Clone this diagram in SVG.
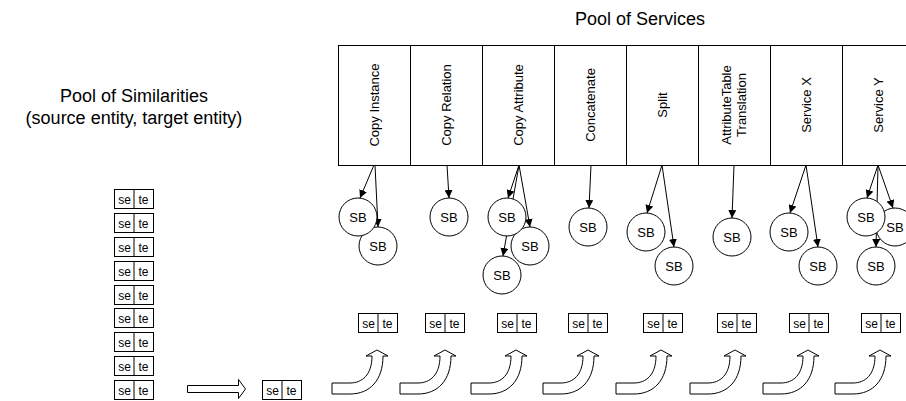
<svg xmlns="http://www.w3.org/2000/svg" xmlns:xlink="http://www.w3.org/1999/xlink" width="906" height="401" viewBox="0 0 906 401">
<style>
text{font-family:"Liberation Sans",Arial,sans-serif;fill:#000}
.title{font-size:18px;text-anchor:middle}
.svc{fill:#fff;stroke:#000;stroke-width:1}
.lbl{font-size:13px;text-anchor:middle;dominant-baseline:central}
.sb circle{fill:#fff;stroke:#000;stroke-width:1}
.sb text{font-size:13px;text-anchor:middle}
.pbox{fill:#fff;stroke:#000;stroke-width:1}
.ptxt{font-size:12px;text-anchor:middle;font-family:"Liberation Sans",Arial,sans-serif;fill:#000}
.conn line{stroke:#000;stroke-width:1;fill:none}
.hollow{fill:#fff;stroke:#000;stroke-width:1}
</style>
<defs>
<marker id="ah" viewBox="0 0 10 10" refX="10" refY="5" markerWidth="8" markerHeight="8" markerUnits="userSpaceOnUse" orient="auto">
<path d="M0,0 L10,5 L0,10 Z" fill="#000"/>
</marker>
<path id="curve" fill="#fff" stroke="#000" stroke-width="1" d="M332,383 L350,383 C362,383 372,375 372,356 L366,356 L377,350 L388,356 L383,356 C383,380 370,394 350,394 L332,394 Z"/>
<g id="pairShape">
<rect class="pbox" x="0.5" y="0.5" width="39" height="19" fill="#fff" stroke="#000"/>
<line class="pbox" x1="20" y1="0.5" x2="20" y2="19.5" stroke="#000"/>
<text class="ptxt" x="10.5" y="14.5" font-size="12" text-anchor="middle">se</text>
<text class="ptxt" x="29.5" y="14.5" font-size="12" text-anchor="middle">te</text>
</g>
</defs>

<text class="title" x="640" y="25">Pool of Services</text>
<text class="title" x="134" y="102">Pool of Similarities</text>
<text class="title" x="134" y="124">(source entity, target entity)</text>

<g id="connectors" class="conn">
<line x1="374" y1="165" x2="360" y2="198" marker-end="url(#ah)"/>
<line x1="375" y1="165" x2="378" y2="227" marker-end="url(#ah)"/>
<line x1="447" y1="165" x2="449" y2="198" marker-end="url(#ah)"/>
<line x1="519" y1="165" x2="508" y2="198" marker-end="url(#ah)"/>
<line x1="519" y1="165" x2="530" y2="227" marker-end="url(#ah)"/>
<line x1="519" y1="165" x2="503" y2="256" marker-end="url(#ah)"/>
<line x1="591" y1="165" x2="589" y2="208" marker-end="url(#ah)"/>
<line x1="662" y1="165" x2="647" y2="213" marker-end="url(#ah)"/>
<line x1="662" y1="165" x2="674" y2="247" marker-end="url(#ah)"/>
<line x1="734" y1="165" x2="732" y2="218" marker-end="url(#ah)"/>
<line x1="806" y1="165" x2="790" y2="213" marker-end="url(#ah)"/>
<line x1="806" y1="165" x2="818" y2="247" marker-end="url(#ah)"/>
<line x1="878" y1="165" x2="867" y2="198" marker-end="url(#ah)"/>
<line x1="878" y1="165" x2="893" y2="208" marker-end="url(#ah)"/>
<line x1="878" y1="165" x2="876" y2="247" marker-end="url(#ah)"/>
<path class="hollow" d="M187.5,385.5 L238.5,385.5 L238.5,379.5 L245.5,389 L238.5,398.5 L238.5,392.5 L187.5,392.5 Z"/>
<use xlink:href="#curve"/>
<use xlink:href="#curve" x="68"/>
<use xlink:href="#curve" x="139"/>
<use xlink:href="#curve" x="211"/>
<use xlink:href="#curve" x="284"/>
<use xlink:href="#curve" x="358"/>
<use xlink:href="#curve" x="431"/>
<use xlink:href="#curve" x="503"/>
</g>

<g id="svc-copy-instance"><rect class="svc" x="338.5" y="45.5" width="72" height="120"/><text class="lbl" transform="translate(374.5,105) rotate(-90)">Copy Instance</text></g>
<g id="svc-copy-relation"><rect class="svc" x="410.5" y="45.5" width="72" height="120"/><text class="lbl" transform="translate(446.5,105) rotate(-90)">Copy Relation</text></g>
<g id="svc-copy-attribute"><rect class="svc" x="482.5" y="45.5" width="72" height="120"/><text class="lbl" transform="translate(518.5,105) rotate(-90)">Copy Attribute</text></g>
<g id="svc-concatenate"><rect class="svc" x="554.5" y="45.5" width="72" height="120"/><text class="lbl" transform="translate(590.5,105) rotate(-90)">Concatenate</text></g>
<g id="svc-split"><rect class="svc" x="626.5" y="45.5" width="72" height="120"/><text class="lbl" transform="translate(662.5,105) rotate(-90)">Split</text></g>
<g id="svc-attributetable"><rect class="svc" x="698.5" y="45.5" width="72" height="120"/><text class="lbl" transform="translate(726,105) rotate(-90)">AttributeTable</text><text class="lbl" transform="translate(741,105) rotate(-90)">Translation</text></g>
<g id="svc-service-x"><rect class="svc" x="770.5" y="45.5" width="72" height="120"/><text class="lbl" transform="translate(806.5,105) rotate(-90)">Service X</text></g>
<g id="svc-service-y"><rect class="svc" x="842.5" y="45.5" width="72" height="120"/><text class="lbl" transform="translate(878.5,105) rotate(-90)">Service Y</text></g>

<g id="sb-ci-2" class="sb"><circle cx="378" cy="246" r="19"/><text x="378" y="250.5">SB</text></g>
<g id="sb-ci-1" class="sb"><circle cx="358" cy="217" r="19"/><text x="358" y="221.5">SB</text></g>
<g id="sb-cr-1" class="sb"><circle cx="449" cy="217" r="19"/><text x="449" y="221.5">SB</text></g>
<g id="sb-ca-2" class="sb"><circle cx="530" cy="246" r="19"/><text x="530" y="250.5">SB</text></g>
<g id="sb-ca-1" class="sb"><circle cx="507" cy="217" r="19"/><text x="507" y="221.5">SB</text></g>
<g id="sb-ca-3" class="sb"><circle cx="502" cy="275" r="19"/><text x="502" y="279.5">SB</text></g>
<g id="sb-cc-1" class="sb"><circle cx="588" cy="227" r="19"/><text x="588" y="231.5">SB</text></g>
<g id="sb-sp-1" class="sb"><circle cx="646" cy="232" r="19"/><text x="646" y="236.5">SB</text></g>
<g id="sb-sp-2" class="sb"><circle cx="674" cy="266" r="19"/><text x="674" y="270.5">SB</text></g>
<g id="sb-at-1" class="sb"><circle cx="732" cy="237" r="19"/><text x="732" y="241.5">SB</text></g>
<g id="sb-sx-1" class="sb"><circle cx="789" cy="232" r="19"/><text x="789" y="236.5">SB</text></g>
<g id="sb-sx-2" class="sb"><circle cx="818" cy="266" r="19"/><text x="818" y="270.5">SB</text></g>
<g id="sb-sy-2" class="sb"><circle cx="895" cy="227" r="19"/><text x="895" y="231.5">SB</text></g>
<g id="sb-sy-1" class="sb"><circle cx="866" cy="217" r="19"/><text x="866" y="221.5">SB</text></g>
<g id="sb-sy-3" class="sb"><circle cx="876" cy="266" r="19"/><text x="876" y="270.5">SB</text></g>

<g id="pool-1"><use xlink:href="#pairShape" x="114" y="189"/></g>
<g id="pool-2"><use xlink:href="#pairShape" x="114" y="213"/></g>
<g id="pool-3"><use xlink:href="#pairShape" x="114" y="237"/></g>
<g id="pool-4"><use xlink:href="#pairShape" x="114" y="261"/></g>
<g id="pool-5"><use xlink:href="#pairShape" x="114" y="285"/></g>
<g id="pool-6"><use xlink:href="#pairShape" x="114" y="308"/></g>
<g id="pool-7"><use xlink:href="#pairShape" x="114" y="332"/></g>
<g id="pool-8"><use xlink:href="#pairShape" x="114" y="356"/></g>
<g id="pool-9"><use xlink:href="#pairShape" x="114" y="380"/></g>
<g id="current"><use xlink:href="#pairShape" x="262" y="380"/></g>

<g id="out-1"><use xlink:href="#pairShape" x="358" y="313"/></g>
<g id="out-2"><use xlink:href="#pairShape" x="425" y="313"/></g>
<g id="out-3"><use xlink:href="#pairShape" x="497" y="313"/></g>
<g id="out-4"><use xlink:href="#pairShape" x="568" y="313"/></g>
<g id="out-5"><use xlink:href="#pairShape" x="643" y="313"/></g>
<g id="out-6"><use xlink:href="#pairShape" x="717" y="313"/></g>
<g id="out-7"><use xlink:href="#pairShape" x="789" y="313"/></g>
<g id="out-8"><use xlink:href="#pairShape" x="861" y="313"/></g>
</svg>
